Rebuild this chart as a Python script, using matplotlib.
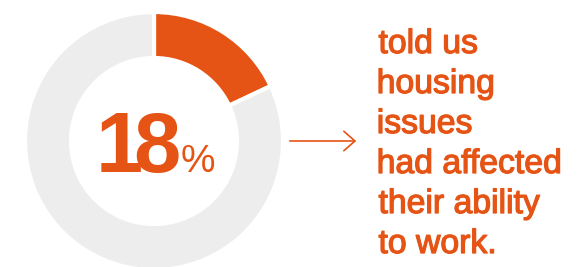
import matplotlib
matplotlib.use("Agg")
import matplotlib.pyplot as plt
import matplotlib.patheffects as pe
from matplotlib.font_manager import FontProperties
from matplotlib.textpath import TextPath

# ---------------------------------------------------------------------------
# Data
# ---------------------------------------------------------------------------
share_values = [18, 82]
share_colors = ["#E65415", "#EDEDED"]
big_digits = ["1", "8"]
big_unit = "%"
caption_lines = ["told us", "housing", "issues", "had affected",
                 "their ability", "to work."]

ORANGE = "#E65415"
W, H = 586, 267

fig = plt.figure(figsize=(W / 100, H / 100), dpi=100)
ax = fig.add_axes([0, 0, 1, 1])

# donut (pixel coordinates, y measured from the bottom)
cx, cy, r_out, r_in = 154, H - 141, 129, 83
ax.pie(share_values, colors=share_colors, startangle=90, counterclock=False,
       center=(cx, cy), radius=r_out,
       wedgeprops=dict(width=r_out - r_in, edgecolor="white", linewidth=3))

ax.set_xlim(0, W)
ax.set_ylim(0, H)
ax.set_aspect("equal")
ax.axis("off")

font = "Liberation Sans"
medium = [pe.withStroke(linewidth=0.9, foreground=ORANGE)]


def ink_x(s, size_pt, weight="normal"):
    """Horizontal ink extent of a string, in pixels from the pen origin."""
    prop = FontProperties(family=font, weight=weight)
    ext = TextPath((0, 0), s, size=size_pt * 100 / 72, prop=prop).get_extents()
    return ext.x0, ext.x1


# centre value, digits set tight (positions given by ink edges)
big_pt, unit_pt = 61, 28
x0, _ = ink_x(big_digits[0], big_pt, "bold")
ax.text(101 - x0, H - 172, big_digits[0], ha="left", va="baseline",
        fontsize=big_pt, fontweight="bold", color=ORANGE, family=font)
_, x1 = ink_x(big_digits[1], big_pt, "bold")
ax.text(178 - x1, H - 172, big_digits[1], ha="left", va="baseline",
        fontsize=big_pt, fontweight="bold", color=ORANGE, family=font)
x0, _ = ink_x(big_unit, unit_pt)
ax.text(182 - x0, H - 172, big_unit, ha="left", va="baseline",
        fontsize=unit_pt, color=ORANGE, family=font)

# arrow
ax.annotate("", xy=(359, H - 141), xytext=(287, H - 141),
            arrowprops=dict(arrowstyle="->,head_length=0.8,head_width=0.7",
                            color=ORANGE, lw=1.2))

# caption
for i, line in enumerate(caption_lines):
    x0, _ = ink_x(line, 24.3)
    ax.text(379 - x0, H - (53 + 40 * i), line, ha="left", va="baseline",
            fontsize=24.3, color=ORANGE, family=font, path_effects=medium)

fig.savefig("out.png", dpi=100)
